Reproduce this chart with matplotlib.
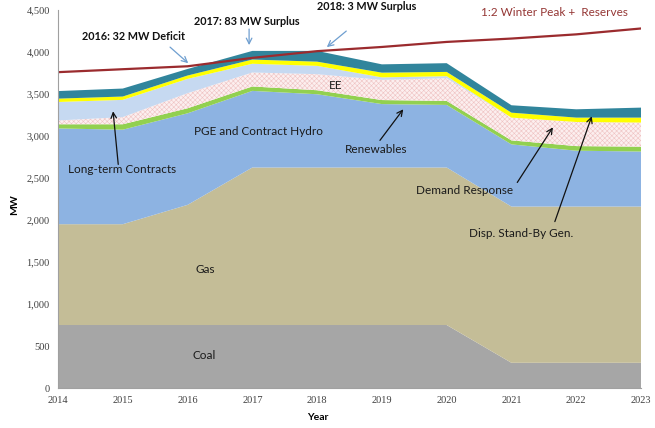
import matplotlib
matplotlib.use("Agg")
import matplotlib.pyplot as plt
from matplotlib.ticker import FuncFormatter

years = [2014, 2015, 2016, 2017, 2018, 2019, 2020, 2021, 2022, 2023]
coal = [750, 750, 750, 750, 750, 750, 750, 300, 300, 300]
gas = [1200, 1200, 1430, 1875, 1875, 1875, 1875, 1860, 1860, 1860]
hydro = [1140, 1125, 1090, 912, 872, 755, 745, 740, 665, 655]
renewables = [50, 65, 60, 53, 48, 48, 48, 48, 55, 58]
ee = [45, 85, 180, 166, 191, 240, 270, 271, 287, 287]
long_term = [220, 205, 170, 104, 99, 30, 24, 0, 0, 0]
demand_resp = [40, 40, 40, 50, 50, 56, 51, 59, 52, 59]
standby = [90, 95, 78, 103, 128, 99, 104, 88, 99, 119]
peak_reserves = [3760, 3795, 3830, 3930, 4010, 4060, 4120, 4160, 4210, 4280]
yticks = list(range(0, 4501, 500))

plt.rcParams['hatch.linewidth'] = 0.4
plt.rcParams['hatch.color'] = '#efc3c3'

fig = plt.figure(figsize=(6.55, 4.28), dpi=100)
ax = fig.add_axes([58/655, 1-388/428, (641-58)/655, (388-10)/428])

layers = [coal, gas, hydro, renewables, ee, long_term, demand_resp, standby]
colors = ['#a6a6a6', '#c4bd97', '#8db3e2', '#92d050', '#fcefef', '#c6d9f1', '#ffff00', '#31859c']
polys = ax.stackplot(years, *layers, colors=colors, linewidth=0)
polys[4].set_hatch('xxxxxxx')
polys[4].set_edgecolor('#efc3c3')

ax.plot(years, peak_reserves, color='#9b2b2e', lw=1.6)

ax.set_xlim(2014, 2023)
ax.set_ylim(0, 4500)
ax.set_yticks(yticks)
ax.set_xticks(years)
ax.yaxis.set_major_formatter(FuncFormatter(lambda v, p: f"{int(v):,}"))
ax.tick_params(length=0, labelsize=7.5, colors='#404040', pad=6)
for lab in ax.get_xticklabels() + ax.get_yticklabels():
    lab.set_family('Liberation Serif')
for s in ['top', 'right']:
    ax.spines[s].set_visible(False)
for s in ['left', 'bottom']:
    ax.spines[s].set_color('#a0a0a0')
    ax.spines[s].set_linewidth(0.8)

fig.text(15/655, 1-205/428, 'MW', rotation=90, ha='center', va='center',
         fontsize=7.5, fontweight='bold', family='Lato')
fig.text(318/655, 1-418/428, 'Year', ha='center', va='center',
         fontsize=7.5, fontweight='bold', family='Lato')

lbl = dict(family='Lato', fontsize=8.5, color='#1a1a1a', ha='center', va='center')
bold = dict(family='Lato', fontsize=7.8, fontweight='bold', color='#111111', ha='center', va='center')

ax.text(2015.16, 4190, '2016: 32 MW Deficit', **bold)
ax.text(2016.92, 4369, '2017: 83 MW Surplus', **bold)
ax.text(2018.77, 4536, '2018: 3 MW Surplus', clip_on=False, **bold)
ax.text(2021.66, 4476, '1:2 Winter Peak +  Reserves', family='Lato', fontsize=8.5,
        color='#953735', ha='center', va='center', clip_on=False)

blue_arrow = dict(arrowstyle='->', color='#6f9fd0', lw=0.9, shrinkA=0, shrinkB=0)
ax.annotate('', xy=(2016.01, 3867), xytext=(2015.73, 4058), arrowprops=blue_arrow)
ax.annotate('', xy=(2016.95, 4082), xytext=(2016.95, 4273), arrowprops=blue_arrow)
ax.annotate('', xy=(2018.15, 4058), xytext=(2018.45, 4249), arrowprops=blue_arrow)

black_arrow = dict(arrowstyle='->', color='#111111', lw=0.9, shrinkA=0, shrinkB=0)
ax.annotate('', xy=(2014.85, 3294), xytext=(2014.93, 2662), arrowprops=black_arrow)
ax.text(2014.99, 2602, 'Long-term Contracts', **lbl)
ax.text(2017.10, 3056, 'PGE and Contract Hydro', **lbl)
ax.text(2018.28, 3605, 'EE', **lbl)
ax.annotate('', xy=(2019.33, 3318), xytext=(2018.97, 2948), arrowprops=black_arrow)
ax.text(2018.91, 2841, 'Renewables', **lbl)
ax.annotate('', xy=(2021.64, 3103), xytext=(2021.09, 2447), arrowprops=black_arrow)
ax.text(2020.28, 2351, 'Demand Response', **lbl)
ax.annotate('', xy=(2022.24, 3235), xytext=(2021.67, 1981), arrowprops=black_arrow)
ax.text(2021.15, 1838, 'Disp. Stand-By Gen.', **lbl)
ax.text(2016.27, 1408, 'Gas', **lbl)
ax.text(2016.25, 382, 'Coal', **lbl)

fig.savefig('out.png', dpi=100)
